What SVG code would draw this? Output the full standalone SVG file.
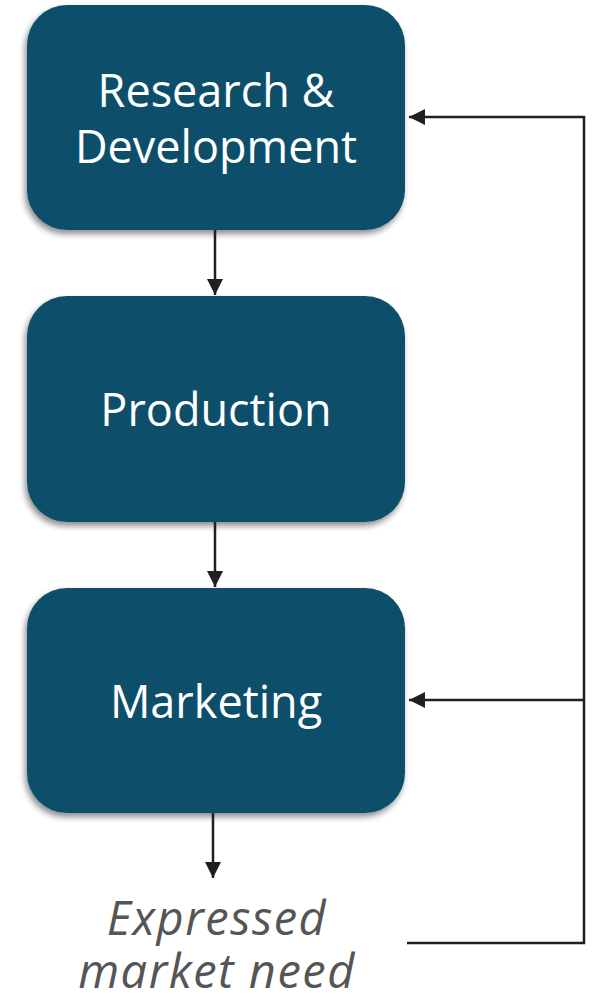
<svg xmlns="http://www.w3.org/2000/svg" width="592" height="994" viewBox="0 0 592 994">
<defs>
<filter id="sh" x="-10%" y="-10%" width="125%" height="125%">
<feGaussianBlur in="SourceAlpha" stdDeviation="3"/>
<feOffset dx="-2" dy="4" result="b"/>
<feComponentTransfer><feFuncA type="linear" slope="0.45"/></feComponentTransfer>
<feMerge><feMergeNode/><feMergeNode in="SourceGraphic"/></feMerge>
</filter>
<marker id="ah" viewBox="0 0 10 10" refX="10" refY="5" markerWidth="16" markerHeight="16" markerUnits="userSpaceOnUse" orient="auto">
<path d="M0,0 L10,5 L0,10 z" fill="#231f20"/>
</marker>
</defs>
<style>
.box{fill:#0d4f6a;filter:url(#sh)}
.lbl{fill:#fff;font-family:"Open Sans",Lato,sans-serif;font-size:45px;text-anchor:middle;font-variant-ligatures:none}
.it{fill:#555;font-family:"Open Sans",Lato,sans-serif;font-size:47px;letter-spacing:1.5px;font-style:italic;text-anchor:middle;font-variant-ligatures:none}
.c{stroke:#231f20;stroke-width:2.5;fill:none}
</style>
<g id="rd">
<rect class="box" x="27" y="5" width="378" height="225" rx="40"/>
<text class="lbl" x="216" y="107">Research &amp;</text>
<text class="lbl" x="216" y="163">Development</text>
</g>
<g id="production">
<rect class="box" x="27" y="296" width="378" height="226" rx="40"/>
<text class="lbl" x="216" y="426">Production</text>
</g>
<g id="marketing">
<rect class="box" x="27" y="588" width="378" height="225" rx="40"/>
<text class="lbl" x="216" y="718">Marketing</text>
</g>
<g id="need">
<text class="it" x="217" y="935">Expressed</text>
<text class="it" x="217" y="988">market need</text>
</g>
<g id="connectors">
<path class="c" d="M215,230 V295" marker-end="url(#ah)"/>
<path class="c" d="M215,522 V587" marker-end="url(#ah)"/>
<path class="c" d="M213,813 V878" marker-end="url(#ah)"/>
<path class="c" d="M407,943 H584 V117 H409" marker-end="url(#ah)"/>
<path class="c" d="M584,700 H409" marker-end="url(#ah)"/>
</g>
</svg>
